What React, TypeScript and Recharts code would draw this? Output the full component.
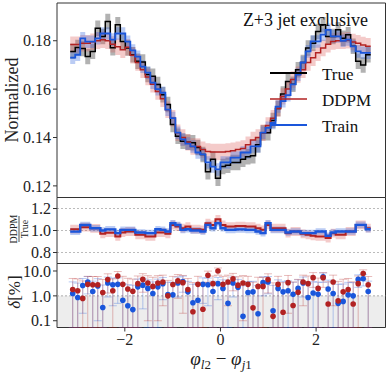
import { ComposedChart, Line, Area, Scatter, ErrorBar, XAxis, YAxis, CartesianGrid, ReferenceArea, ReferenceLine } from 'recharts';

const N_BINS = 60;
const PHI_MIN = -Math.PI;
const PHI_MAX = Math.PI;

// top panel: normalized distributions
const trueVals = [
  0.1756, 0.1772, 0.1768, 0.1735, 0.1756, 0.1852, 0.1818, 0.1880, 0.1771, 0.1866,
  0.1797, 0.1770, 0.1742, 0.1715, 0.1712, 0.1660, 0.1653, 0.1619, 0.1577, 0.1536,
  0.1454, 0.1405, 0.1385, 0.1380, 0.1378, 0.1359, 0.1330, 0.1258, 0.1310, 0.1232,
  0.1280, 0.1285, 0.1297, 0.1297, 0.1310, 0.1320, 0.1325, 0.1370, 0.1420, 0.1420,
  0.1470, 0.1520, 0.1580, 0.1632, 0.1620, 0.1680, 0.1710, 0.1770, 0.1790, 0.1838,
  0.1866, 0.1818, 0.1818, 0.1845, 0.1810, 0.1825, 0.1777, 0.1715, 0.1700, 0.1742,
];
const ddpmVals = [
  0.1784, 0.1784, 0.1790, 0.1790, 0.1796, 0.1800, 0.1804, 0.1800, 0.1785, 0.1775,
  0.1763, 0.1773, 0.1740, 0.1710, 0.1680, 0.1650, 0.1620, 0.1590, 0.1560, 0.1515,
  0.1480, 0.1420, 0.1400, 0.1380, 0.1363, 0.1363, 0.1350, 0.1342, 0.1340, 0.1340,
  0.1340, 0.1342, 0.1345, 0.1350, 0.1355, 0.1370, 0.1390, 0.1400, 0.1420, 0.1450,
  0.1480, 0.1520, 0.1570, 0.1600, 0.1640, 0.1660, 0.1680, 0.1710, 0.1730, 0.1750,
  0.1770, 0.1785, 0.1797, 0.1800, 0.1800, 0.1802, 0.1795, 0.1790, 0.1782, 0.1777,
];
const trainVals = [
  0.1730, 0.1742, 0.1810, 0.1796, 0.1796, 0.1810, 0.1830, 0.1830, 0.1805, 0.1830,
  0.1830, 0.1796, 0.1760, 0.1734, 0.1693, 0.1668, 0.1627, 0.1600, 0.1585, 0.1515,
  0.1480, 0.1420, 0.1392, 0.1375, 0.1363, 0.1338, 0.1330, 0.1297, 0.1280, 0.1268,
  0.1297, 0.1297, 0.1317, 0.1317, 0.1338, 0.1338, 0.1363, 0.1363, 0.1420, 0.1440,
  0.1460, 0.1528, 0.1550, 0.1575, 0.1620, 0.1660, 0.1710, 0.1756, 0.1797, 0.1797,
  0.1825, 0.1845, 0.1818, 0.1818, 0.1800, 0.1805, 0.1777, 0.1756, 0.1750, 0.1750,
];

// middle panel: ratio to True
const ddpmRatio = [
  1.012, 1.012, 1.03, 1.03, 1.02, 1.02, 0.97, 0.98, 0.98, 0.946,
  0.982, 0.991, 0.991, 0.961, 0.961, 0.946, 0.946, 0.982, 0.982, 0.97,
  1.05, 1.036, 1.021, 1.036, 1.012, 1.012, 1.006, 1.066, 1.051, 1.102,
  1.051, 1.036, 1.036, 1.04, 1.04, 1.036, 1.036, 1.021, 1.006, 1.051,
  1.021, 1.021, 1.021, 0.976, 0.991, 0.991, 0.97, 0.961, 0.952, 0.946,
  0.946, 0.932, 0.976, 0.961, 0.961, 0.991, 0.991, 1.051, 1.051, 1.021,
];
const trainRatio = [
  0.99, 0.99, 1.05, 1.05, 1.02, 1.02, 1.0, 1.01, 1.01, 0.976,
  1.006, 1.006, 1.006, 0.982, 0.982, 0.976, 0.976, 1.012, 1.006, 0.991,
  1.066, 1.05, 1.006, 1.012, 1.0, 1.0, 0.991, 1.051, 1.021, 1.066,
  1.021, 1.006, 1.006, 1.01, 1.01, 1.006, 1.006, 0.991, 0.976, 1.066,
  1.006, 1.006, 1.006, 0.982, 0.991, 0.991, 0.976, 0.976, 0.976, 0.991,
  0.991, 0.952, 0.982, 0.991, 0.991, 0.991, 0.991, 1.051, 1.051, 1.012,
];

// bottom panel: delta in percent
const ddpmDelta = [
  1.8, 1.6, 0.79, 2.9, 2.8, 2.8, 1.37, 4.5, 1.6, 6.3,
  2.9, 1.9, 1.54, 3.1, 4.6, 3.3, 2.4, 3.3, 3.6, 1.0,
  2.85, 4.0, 3.4, 1.8, 0.23, 2.9, 0.29, 6.7, 3.1, 10.0,
  2.9, 3.6, 4.8, 2.7, 3.3, 2.9, 0.33, 2.4, 2.4, 4.5,
  0.15, 2.9, 0.22, 3.4, 0.41, 1.4, 3.6, 3.1, 5.4, 2.0,
  5.4, 0.47, 3.6, 0.63, 1.45, 1.8, 0.47, 3.1, 7.9, 2.8,
];
const trainDelta = [
  1.25, 0.86, 2.6, 3.6, 1.5, 2.5, 0.34, 3.3, 2.8, 2.9,
  0.67, 0.4, 0.28, 2.3, 2.7, 2.0, 1.25, 2.3, 3.1, 1.13,
  1.1, 3.3, 3.8, 1.45, 0.53, 0.67, 2.9, 2.8, 1.5, 3.1,
  2.0, 0.5, 3.3, 2.2, 0.15, 1.37, 1.45, 0.19, 3.4, 3.6,
  0.25, 2.0, 1.45, 1.6, 1.15, 2.0, 3.3, 0.86, 1.3, 1.15,
  5.9, 1.9, 1.25, 0.5, 0.6, 1.1, 1.0, 4.6, 4.9, 1.5,
];

const TRUE_UNC = 0.0032;
const DDPM_UNC = 0.0034;
const TRAIN_UNC = 0.0026;
const DDPM_RATIO_UNC = 0.04;
const TRAIN_RATIO_UNC = 0.03;
const DDPM_DELTA_ERR = 3.2;
const TRAIN_DELTA_ERR = 2.4;

const topTicks = [0.12, 0.14, 0.16, 0.18];
const ratioTicks = [0.8, 1.0, 1.2];
const deltaTicks = [0.1, 1, 10];
const xTicks = [-2, 0, 2];

const X_DOMAIN: [number, number] = [-3.418, 3.451];
const TOP_DOMAIN: [number, number] = [0.1152, 0.1956];
const RATIO_DOMAIN: [number, number] = [0.7, 1.3];
const DELTA_DOMAIN: [number, number] = [0.0535, 20];

const FONT = '"Liberation Serif", "Times New Roman", serif';
const AXIS = '#333';
const RED = '#b22222';
const BLUE = '#1a56db';
const W = 391;

const binW = (PHI_MAX - PHI_MIN) / N_BINS;
const histData = Array.from({ length: N_BINS + 1 }, (_, i) => {
  const k = Math.min(i, N_BINS - 1);
  return {
    x: PHI_MIN + i * binW,
    truth: trueVals[k],
    ddpm: ddpmVals[k],
    train: trainVals[k],
    truthBand: [trueVals[k] - TRUE_UNC, trueVals[k] + TRUE_UNC],
    ddpmBand: [ddpmVals[k] - DDPM_UNC, ddpmVals[k] + DDPM_UNC],
    trainBand: [trainVals[k] - TRAIN_UNC, trainVals[k] + TRAIN_UNC],
    ddpmR: ddpmRatio[k],
    trainR: trainRatio[k],
    ddpmRBand: [ddpmRatio[k] - DDPM_RATIO_UNC, ddpmRatio[k] + DDPM_RATIO_UNC],
    trainRBand: [trainRatio[k] - TRAIN_RATIO_UNC, trainRatio[k] + TRAIN_RATIO_UNC],
  };
});

const deltaData = ddpmDelta.map((d, i) => ({
  x: PHI_MIN + (i + 0.5) * binW,
  ddpm: d,
  train: trainDelta[i],
}));

// error bar from the panel floor (or value - err) up to value + err
const errRange = (v: number, e: number) => {
  const lo = Math.max(DELTA_DOMAIN[0], v - e);
  return [v - lo, e];
};

const tickStyle = { fontFamily: FONT, fontSize: 16, fill: '#222' };

const dot = (color: string) => (p: any) => <circle cx={p.cx} cy={p.cy} r={2.8} fill={color} />;

export default function App() {
  return (
    <div style={{ position: 'absolute', left: 0, top: 0, width: W, height: 373, background: '#fff' }}>
      {/* top panel */}
      <div style={{ position: 'absolute', left: 0, top: 0 }}>
        <ComposedChart width={W} height={197.5} data={histData} margin={{ top: 3, right: 5.5, bottom: 0, left: 0 }}>
          <XAxis dataKey="x" type="number" domain={X_DOMAIN} allowDataOverflow hide />
          <YAxis
            type="number"
            domain={TOP_DOMAIN}
            allowDataOverflow
            ticks={topTicks}
            interval={0}
            tickFormatter={(v: number) => v.toFixed(2)}
            width={57}
            axisLine={false}
            tickSize={4}
            tickMargin={2}
            tick={tickStyle}
            tickLine={{ stroke: AXIS }}
            label={() => (
              <text x={12} y={100} transform="rotate(-90, 12, 100)" textAnchor="middle" dominantBaseline="central" fontFamily={FONT} fontSize={18} fill="#222">
                Normalized
              </text>
            )}
          />
          <Area dataKey="truthBand" type="stepAfter" stroke="none" fill="#000" fillOpacity={0.3} isAnimationActive={false} />
          <Area dataKey="ddpmBand" type="stepAfter" stroke="none" fill="#d9534f" fillOpacity={0.3} isAnimationActive={false} />
          <Area dataKey="trainBand" type="stepAfter" stroke="none" fill="#3d6ee0" fillOpacity={0.35} isAnimationActive={false} />
          <Line dataKey="truth" type="stepAfter" stroke="#000" strokeWidth={1.5} dot={false} isAnimationActive={false} />
          <Line dataKey="ddpm" type="stepAfter" stroke={RED} strokeWidth={1.5} dot={false} isAnimationActive={false} />
          <Line dataKey="train" type="stepAfter" stroke={BLUE} strokeWidth={1.8} dot={false} isAnimationActive={false} />
          <ReferenceArea x1={X_DOMAIN[0]} x2={X_DOMAIN[1]} y1={TOP_DOMAIN[0]} y2={TOP_DOMAIN[1]} fill="none" stroke={AXIS} strokeWidth={1} />
        </ComposedChart>
      </div>

      {/* title + legend */}
      <svg width={W} height={200} style={{ position: 'absolute', left: 0, top: 0, pointerEvents: 'none' }}>
        <text x={368} y={26} textAnchor="end" fontFamily={FONT} fontSize={18} fill="#111">Z+3 jet exclusive</text>
        <line x1={270} x2={307} y1={73} y2={73} stroke="#000" strokeWidth={2} />
        <line x1={270} x2={307} y1={99} y2={99} stroke={RED} strokeWidth={1.6} />
        <line x1={270} x2={307} y1={125} y2={125} stroke={BLUE} strokeWidth={2} />
        <text x={322} y={80} fontFamily={FONT} fontSize={17} fill="#111">True</text>
        <text x={322} y={106} fontFamily={FONT} fontSize={17} fill="#111">DDPM</text>
        <text x={322} y={132} fontFamily={FONT} fontSize={17} fill="#111">Train</text>
      </svg>

      {/* ratio panel */}
      <div style={{ position: 'absolute', left: 0, top: 190 }}>
        <ComposedChart width={W} height={80} data={histData} margin={{ top: 7.5, right: 5.5, bottom: 6.5, left: 0 }}>
          <CartesianGrid vertical={false} stroke="#aaa" strokeDasharray="2 2" strokeWidth={0.8} />
          <XAxis dataKey="x" type="number" domain={X_DOMAIN} allowDataOverflow hide />
          <YAxis
            type="number"
            domain={RATIO_DOMAIN}
            allowDataOverflow
            ticks={ratioTicks}
            interval={0}
            tickFormatter={(v: number) => v.toFixed(1)}
            width={57}
            axisLine={false}
            tickSize={4}
            tickMargin={2}
            tick={tickStyle}
            tickLine={{ stroke: AXIS }}
            label={() => (
              <g transform="rotate(-90, 19, 39)" fontFamily={FONT} fill="#222">
                <text x={19} y={37} textAnchor="middle" fontSize={10}>DDPM</text>
                <line x1={6} x2={32} y1={39} y2={39} stroke="#222" strokeWidth={0.8} />
                <text x={19} y={48} textAnchor="middle" fontSize={10}>True</text>
              </g>
            )}
          />
          <Area dataKey="ddpmRBand" type="stepAfter" stroke="none" fill="#d9534f" fillOpacity={0.3} isAnimationActive={false} />
          <Area dataKey="trainRBand" type="stepAfter" stroke="none" fill="#3d6ee0" fillOpacity={0.35} isAnimationActive={false} />
          <Line dataKey="ddpmR" type="stepAfter" stroke={RED} strokeWidth={2} dot={false} isAnimationActive={false} />
          <Line dataKey="trainR" type="stepAfter" stroke={BLUE} strokeWidth={2.4} dot={false} isAnimationActive={false} />
          <ReferenceArea x1={X_DOMAIN[0]} x2={X_DOMAIN[1]} y1={RATIO_DOMAIN[0]} y2={RATIO_DOMAIN[1]} fill="none" stroke={AXIS} strokeWidth={1} />
        </ComposedChart>
      </div>

      {/* delta panel */}
      <div style={{ position: 'absolute', left: 0, top: 255 }}>
        <ComposedChart width={W} height={118} data={deltaData} margin={{ top: 8.5, right: 5.5, bottom: 0, left: 0 }}>
          <XAxis
            dataKey="x"
            type="number"
            domain={X_DOMAIN}
            allowDataOverflow
            ticks={xTicks}
            interval={0}
            tickFormatter={(v: number) => (v < 0 ? `\u2212${Math.abs(v)}` : `${v}`)}
            height={45.5}
            axisLine={false}
            tickSize={4}
            tickMargin={2}
            tick={tickStyle}
            tickLine={{ stroke: AXIS }}
            label={() => (
              <text x={221} y={109.5} textAnchor="middle" fontFamily={FONT} fontSize={19} fill="#222">
                <tspan fontStyle="italic">φ</tspan>
                <tspan fontStyle="italic" fontSize={13} dy={4}>l</tspan>
                <tspan fontSize={13}>2</tspan>
                <tspan dy={-4}> − </tspan>
                <tspan fontStyle="italic">φ</tspan>
                <tspan fontStyle="italic" fontSize={13} dy={4}>j</tspan>
                <tspan fontSize={13}>1</tspan>
              </text>
            )}
          />
          <YAxis
            type="number"
            scale="log"
            domain={DELTA_DOMAIN}
            allowDataOverflow
            ticks={deltaTicks}
            interval={0}
            tickFormatter={(v: number) => v.toFixed(1)}
            width={57}
            axisLine={false}
            tickSize={4}
            tickMargin={2}
            tick={tickStyle}
            tickLine={{ stroke: AXIS }}
            label={() => (
              <text x={14} y={37} transform="rotate(-90, 14, 37)" textAnchor="middle" dominantBaseline="central" fontFamily={FONT} fontSize={17} fill="#222">
                <tspan fontStyle="italic">δ</tspan>
                <tspan>[%]</tspan>
              </text>
            )}
          />
          <ReferenceArea y1={DELTA_DOMAIN[0]} y2={1} x1={X_DOMAIN[0]} x2={X_DOMAIN[1]} fill="#000" fillOpacity={0.07} stroke="none" />
          <ReferenceLine y={1} stroke="#999" strokeDasharray="2 2" strokeWidth={0.8} />
          <Scatter dataKey="train" fill={BLUE} shape={dot(BLUE)} isAnimationActive={false}>
            <ErrorBar dataKey={(d: any) => errRange(d.train, TRAIN_DELTA_ERR)} direction="y" width={4} stroke={BLUE} strokeOpacity={0.3} strokeWidth={1} />
          </Scatter>
          <Scatter dataKey="ddpm" fill={RED} shape={dot(RED)} isAnimationActive={false}>
            <ErrorBar dataKey={(d: any) => errRange(d.ddpm, DDPM_DELTA_ERR)} direction="y" width={4} stroke={RED} strokeOpacity={0.3} strokeWidth={1} />
          </Scatter>
          <ReferenceArea x1={X_DOMAIN[0]} x2={X_DOMAIN[1]} y1={DELTA_DOMAIN[0]} y2={DELTA_DOMAIN[1]} fill="none" stroke={AXIS} strokeWidth={1} />
        </ComposedChart>
      </div>
    </div>
  );
}
